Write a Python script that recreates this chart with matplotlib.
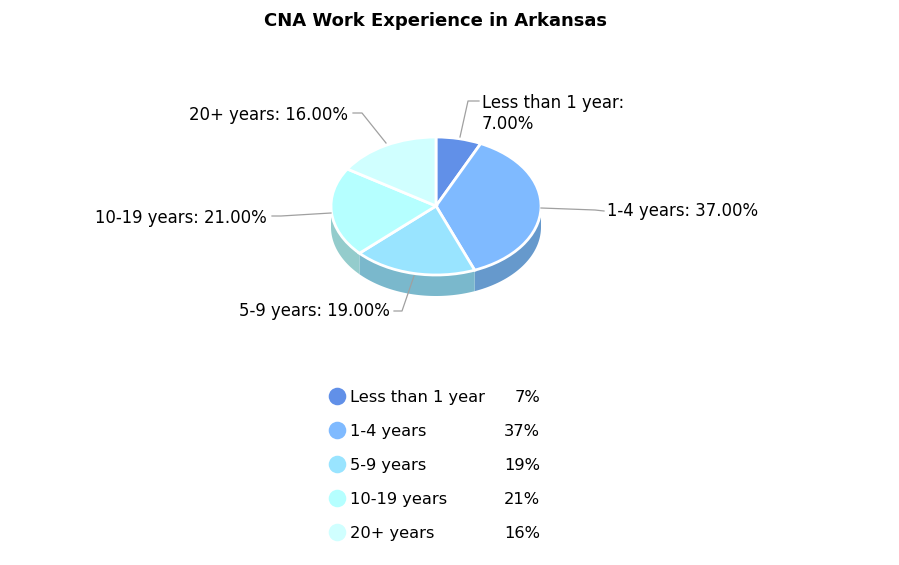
import numpy as np
import matplotlib
matplotlib.use('Agg')
import matplotlib.pyplot as plt
from matplotlib.patches import Polygon

categories = ['Less than 1 year', '1-4 years', '5-9 years', '10-19 years', '20+ years']
values = [7, 37, 19, 21, 16]
colors = ['#6190E8', '#7FBAFF', '#99E4FF', '#B5FFFF', '#D0FFFF']
side_colors = ['#4F76BE', '#6699CC', '#7AB8CC', '#94CCCC', '#A8CCCC']
pie_labels = ['Less than 1 year:\n7.00%', '1-4 years: 37.00%', '5-9 years: 19.00%',
              '10-19 years: 21.00%', '20+ years: 16.00%']
title = 'CNA Work Experience in Arkansas'

W, H = 899, 565
plt.rcParams['font.family'] = ['DejaVu Sans']
fig = plt.figure(figsize=(W / 100, H / 100), dpi=100, facecolor='white')

# overlay in pixel coordinates
ov = fig.add_axes([0, 0, 1, 1], zorder=3)
ov.set_xlim(0, W); ov.set_ylim(H, 0); ov.axis('off'); ov.patch.set_alpha(0)

# elliptical pie
cx, cy, rx, ry, depth = 436, 206, 105, 69, 21
ax = fig.add_axes([(cx - rx) / W, 1 - (cy + ry) / H, 2 * rx / W, 2 * ry / H], zorder=2)
ax.pie(values, colors=colors, startangle=90, counterclock=False, radius=1,
       wedgeprops=dict(edgecolor='white', linewidth=2))
ax.set_aspect('auto'); ax.set_xlim(-1, 1); ax.set_ylim(-1, 1)
for w in ax.patches:
    w.set_clip_on(False)

# side wall
d = depth / ry
edges = 90 - np.cumsum([0] + values) * 3.6
for i in range(len(values)):
    a0, a1 = edges[i + 1], edges[i]
    lo, hi = max(a0, -180), min(a1, 0)
    if lo >= hi:
        continue
    t = np.radians(np.linspace(lo, hi, 60))
    xs, ys = np.cos(t), np.sin(t)
    pts = np.r_[np.c_[xs, ys], np.c_[xs[::-1], ys[::-1] - d]]
    ax.add_patch(Polygon(pts, closed=True, facecolor=side_colors[i], edgecolor='none',
                         clip_on=False, zorder=0))

# title
ov.text(436, 21, title, ha='center', va='center', fontsize=13, fontweight='bold', color='black')

# leaders and labels
leaders = [([460, 468, 479], [137, 101, 101]),
           ([541, 595, 604], [208, 210, 211]),
           ([414, 402, 394], [276, 311, 311]),
           ([331, 281, 272], [213, 216, 216]),
           ([386, 362, 353], [143, 113, 113])]
for lx, ly in leaders:
    ov.plot(lx, ly, color='#A0A0A0', lw=0.9, zorder=1)
lab_fs = 11.9
leg_fs = 11.7
ov.text(482, 113.5, pie_labels[0], ha='left', va='center', fontsize=lab_fs, linespacing=1.15)
ov.text(607, 216, pie_labels[1], ha='left', va='baseline', fontsize=lab_fs)
ov.text(390, 316, pie_labels[2], ha='right', va='baseline', fontsize=lab_fs)
ov.text(267, 223, pie_labels[3], ha='right', va='baseline', fontsize=lab_fs)
ov.text(348, 120, pie_labels[4], ha='right', va='baseline', fontsize=lab_fs)

# legend table
for i, (c, v, col) in enumerate(zip(categories, values, colors)):
    y = 396 + 34 * i
    ov.scatter([337], [y], s=160, color=col, linewidths=0, zorder=2)
    ov.text(350, y + 6, c, ha='left', va='baseline', fontsize=leg_fs)
    ov.text(540, y + 6, f'{v}%', ha='right', va='baseline', fontsize=leg_fs)

fig.savefig('out.png', dpi=100, facecolor='white')
